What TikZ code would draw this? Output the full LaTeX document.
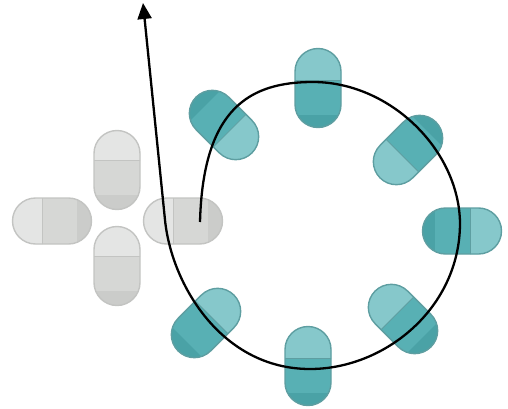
\documentclass[tikz,border=0pt]{standalone}
\usepackage{tikz}
\usetikzlibrary{arrows.meta,shapes.misc}

\definecolor{greylight}{HTML}{E4E5E4}
\definecolor{greymid}{HTML}{D6D7D5}
\definecolor{greydark}{HTML}{CBCCCA}
\definecolor{greyline}{HTML}{C3C4C2}
\definecolor{teallight}{HTML}{86C8CB}
\definecolor{tealmid}{HTML}{58B0B4}
\definecolor{tealdark}{HTML}{4AA2A6}
\definecolor{tealline}{HTML}{5E9EA1}

\begin{document}
\begin{tikzpicture}[
  x=1pt, y=1pt,
  greypill/.style={rounded rectangle, minimum width=79pt, minimum height=46pt,
              inner sep=0pt, line width=1.4pt, draw=greyline, fill=greymid,
              path picture={
                \fill[greylight] (-45,-30) rectangle (-10,30);
                \fill[greydark] (25,-30) rectangle (45,30);
                \draw[greyline, line width=0.8pt] (-10,-30) -- (-10,30);
              }},
  tealpill/.style={rounded rectangle, minimum width=79pt, minimum height=46pt,
              inner sep=0pt, line width=1.4pt, draw=tealline, fill=tealmid,
              path picture={
                \fill[teallight] (-45,-30) rectangle (-8,30);
                \fill[tealdark] (27,-30) rectangle (45,30);
                \draw[tealline, line width=0.8pt] (-8,-30) -- (-8,30);
              }},
  flow/.style={line width=2.3pt, -{Triangle[length=16pt,width=14pt]}},
]
\useasboundingbox (0,0) rectangle (508,408);

% grey cross
\node[greypill, rotate=270] (G1) at (117,238) {};
\node[greypill, rotate=270] (G2) at (117,142) {};
\node[greypill] (G3) at (52,187) {};
\node[greypill] (G4) at (183,187) {};

% teal ring
\foreach \name/\pos/\ang in {T1/{(318,320)}/270, T2/{(408,258)}/45, T3/{(462,177)}/180,
    T4/{(403,89)}/315, T5/{(308,42)}/270, T6/{(206,85)}/225, T7/{(224,283)}/135} {
  \node[tealpill, rotate=\ang] (\name) at \pos {};
}

% path
\coordinate (start) at (200,186);
\coordinate (tip) at (143,405);
\draw[flow] (start) .. controls (203,300) and (250,326) .. (313,326)
  .. controls (390,326) and (459,258) .. (460,185)
  .. controls (460,100) and (385,39) .. (310,39)
  .. controls (222,39) and (171.6,123) .. (165,188) -- (tip);
\end{tikzpicture}
\end{document}
